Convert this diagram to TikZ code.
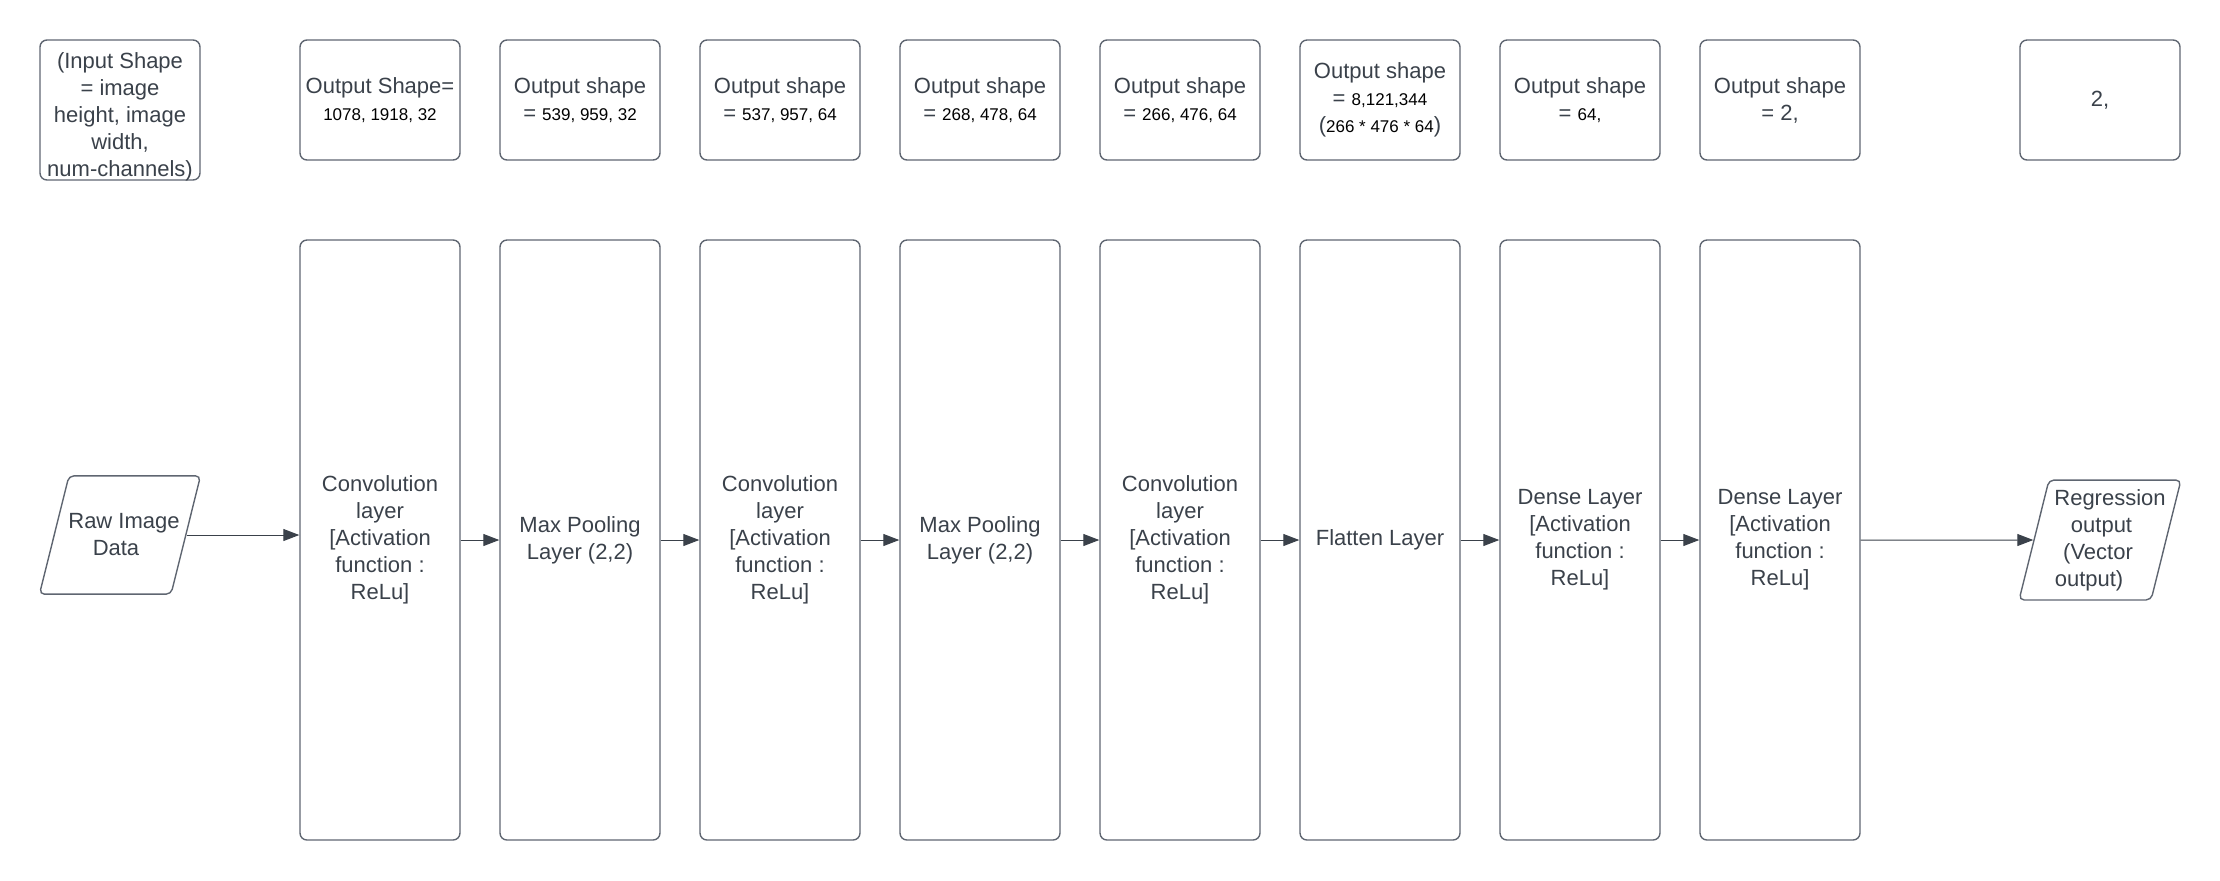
\documentclass[tikz,border=0pt]{standalone}
\usepackage{fontspec}
\setmainfont{Liberation Sans}
\usetikzlibrary{arrows.meta,positioning,calc,shapes.geometric}

\definecolor{lucidtext}{HTML}{3A414A}
\definecolor{lucidline}{HTML}{5F6671}
\newcommand{\dims}[1]{{\color{black}\fontsize{8.5pt}{10pt}\selectfont #1}}
\newcommand{\slantline}[2]{\hspace*{#1}#2\hspace*{-#1}}

\begin{document}
\begin{tikzpicture}[x=0.5pt,y=-0.5pt,
	font=\fontsize{11pt}{13.5pt}\selectfont, text=lucidtext,
	box/.style={rectangle,draw=lucidline,line width=0.7pt,rounded corners=3.5pt,minimum width=80pt,align=center,inner sep=2pt},
	shapebox/.style={box,minimum height=60pt},
	layerbox/.style={box,minimum height=300pt},
	databox/.style={trapezium,trapezium left angle=76,trapezium right angle=104,draw=lucidline,line width=0.7pt,rounded corners=2.5pt,align=center,inner xsep=-2.3pt},
	arr/.style={-{Triangle[length=8pt,width=6pt]},draw=lucidtext,line width=0.5pt}]
	
	\useasboundingbox (0,0) rectangle (2220,880);
	
	% Shapes
	\node[box,minimum height=70pt,text height=66pt,text depth=0pt] (s0) at (120,110) {(Input Shape\\= image\\height, image\\width,\\num-channels)};
	\node[shapebox] (s1) at (380,100) {Output Shape=\\\dims{1078, 1918, 32}};
	\node[shapebox] (s2) at (580,100) {Output shape\\= \dims{539, 959, 32}};
	\node[shapebox] (s3) at (780,100) {Output shape\\= \dims{537, 957, 64}};
	\node[shapebox] (s4) at (980,100) {Output shape\\= \dims{268, 478, 64}};
	\node[shapebox] (s5) at (1180,100) {Output shape\\= \dims{266, 476, 64}};
	\node[shapebox] (s6) at (1380,100) {Output shape\\= \dims{8,121,344}\\(\dims{266 * 476 * 64})};
	\node[shapebox] (s7) at (1580,100) {Output shape\\= \dims{64,}};
	\node[shapebox] (s8) at (1780,100) {Output shape\\= 2,};
	\node[shapebox] (s9) at (2100,100) {2,};
	
	% Layers
	\node[databox,inner ysep=19pt] (raw) at (120,535) {\slantline{2pt}{Raw Image}\\\slantline{-2pt}{Data}};
	\node[layerbox] (conv1) at (380,540) {Convolution\\layer\\{[}Activation\\function :\\ReLu]};
	\node[layerbox] (pool1) at (580,540) {Max Pooling\\Layer (2,2)};
	\node[layerbox] (conv2) at (780,540) {Convolution\\layer\\{[}Activation\\function :\\ReLu]};
	\node[layerbox] (pool2) at (980,540) {Max Pooling\\Layer (2,2)};
	\node[layerbox] (conv3) at (1180,540) {Convolution\\layer\\{[}Activation\\function :\\ReLu]};
	\node[layerbox] (flat) at (1380,540) {Flatten Layer};
	\node[layerbox] (dense1) at (1580,540) {Dense Layer\\{[}Activation\\function :\\ReLu]};
	\node[layerbox] (dense2) at (1780,540) {Dense Layer\\{[}Activation\\function :\\ReLu]};
	\node[databox,inner ysep=4.6pt] (reg) at (2100,540) {\slantline{5pt}{Regression}\\\slantline{1.5pt}{output}\\\slantline{-2pt}{(Vector}\\\slantline{-5.5pt}{output)}};
	
	% Arrows
	\draw[arr] (raw.east) -- (raw.east -| conv1.west);
	\draw[arr] (conv1.east) -- (pool1.west);
	\draw[arr] (pool1.east) -- (conv2.west);
	\draw[arr] (conv2.east) -- (pool2.west);
	\draw[arr] (pool2.east) -- (conv3.west);
	\draw[arr] (conv3.east) -- (flat.west);
	\draw[arr] (flat.east) -- (dense1.west);
	\draw[arr] (dense1.east) -- (dense2.west);
	\draw[arr] (dense2.east) -- (reg.west);
	
\end{tikzpicture}
\end{document}
